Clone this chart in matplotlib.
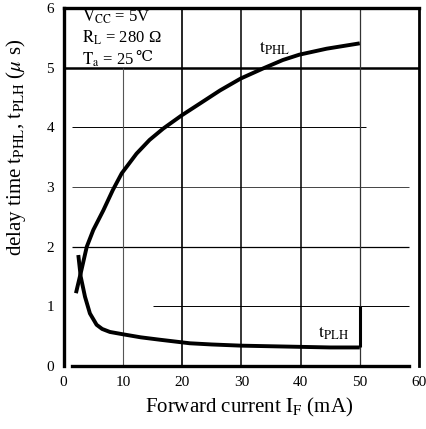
import numpy as np
import matplotlib
matplotlib.use('Agg')
import matplotlib.pyplot as plt

plt.rcParams['font.family'] = ['Liberation Serif', 'DejaVu Serif', 'Noto Sans CJK JP']
plt.rcParams['mathtext.fontset'] = 'stix'

# forward current IF (mA) and delay times (us)
if_phl = [2.07, 3.0, 3.9, 5.0, 6.7, 8.3, 9.8, 12.3, 14.5, 16.8, 19.9, 23.0, 26.4,
          29.9, 33.7, 37.0, 39.8, 44.4, 50.0]
t_phl = [1.22, 1.61, 2.0, 2.28, 2.61, 2.95, 3.23, 3.56, 3.79, 3.98, 4.20, 4.40, 4.62,
         4.82, 4.99, 5.13, 5.22, 5.32, 5.41]

if_plh = [2.47, 2.87, 3.6, 4.43, 5.56, 6.5, 7.8, 10.05, 13.0, 16.2, 21.3, 25.0, 30.0,
          35.0, 40.0, 45.0, 50.0]
t_plh = [1.86, 1.50, 1.16, 0.88, 0.69, 0.62, 0.57, 0.53, 0.48, 0.44, 0.38, 0.36, 0.34,
         0.33, 0.32, 0.31, 0.31]

xticks = [0, 10, 20, 30, 40, 50, 60]
yticks = [0, 1, 2, 3, 4, 5, 6]

fig = plt.figure(figsize=(4.26, 4.29), dpi=100)
ax = fig.add_axes([0.1495, 0.147, 0.834, 0.834])
ax.set_xlim(0, 60)
ax.set_ylim(0, 6)

# grid, drawn piecewise like the scanned sheet
ax.hlines(5, 0, 60, color='black', lw=1.8)
ax.hlines(4, 1.4, 51, color='black', lw=0.7)
ax.hlines(3, 1.4, 58.4, color='#444444', lw=0.7)
ax.hlines(2, 1.4, 58.4, color='black', lw=0.9)
ax.hlines(1, 15, 58.4, color='black', lw=0.7)
ax.vlines(10, 0, 5, color='#555555', lw=0.8)
ax.vlines(20, 0, 6, color='black', lw=1.2)
ax.vlines(30, 0, 6, color='black', lw=1.1)
ax.vlines(40, 0, 6, color='black', lw=1.1)
ax.vlines(50, 0, 6, color='#333333', lw=0.9)
ax.vlines(50, t_plh[-1], 1.0, color='black', lw=2.2)

ax.plot(if_phl, t_phl, color='black', lw=2.8, solid_capstyle='butt', solid_joinstyle='round')
ax.plot(if_plh, t_plh, color='black', lw=2.8, solid_capstyle='butt', solid_joinstyle='round')

ax.text(35.6, 5.33, r'$\mathrm{t_{PHL}}$', fontsize=13, ha='center', va='center')
ax.text(45.6, 0.55, r'$\mathrm{t_{PLH}}$', fontsize=13, ha='center', va='center')

# conditions
ax.text(3.1, 5.85, r'$\mathrm{V_{CC}}$ = 5V', fontsize=12, ha='left', va='center')
ax.text(3.1, 5.51, r'$\mathrm{R_L}$ = 280 Ω', fontsize=12, ha='left', va='center')
t_a = ax.text(3.1, 5.13, r'$\mathrm{T_a}$ = 25', fontsize=12, ha='left', va='center')
ax.annotate('℃', xy=(1, 1), xycoords=t_a, xytext=(0.5, 0), textcoords='offset points',
            fontsize=11, ha='left', va='top')

for s in ['left', 'top']:
    ax.spines[s].set_linewidth(2.4)
ax.spines['right'].set_linewidth(2.0)
ax.spines['bottom'].set_linewidth(2.4)
ax.spines['bottom'].set_bounds(1.4, 58.4)

ax.set_xticks(xticks)
ax.set_yticks(yticks)
ax.tick_params(length=0, labelsize=11, pad=7)

ax.set_xlabel(r'Forward current $\mathrm{I_F}$ (mA)', fontsize=15)
ax.xaxis.set_label_coords(0.523, -0.115)
ax.xaxis.label.set_va('center')
ax.set_ylabel(r'delay time $\mathrm{t_{PHL}}$, $\mathrm{t_{PLH}}$ ($\mu$ s)', fontsize=15)
ax.yaxis.set_label_coords(-0.134, 0.61)
ax.yaxis.label.set_va('center')

fig.savefig('out.png', dpi=100)
